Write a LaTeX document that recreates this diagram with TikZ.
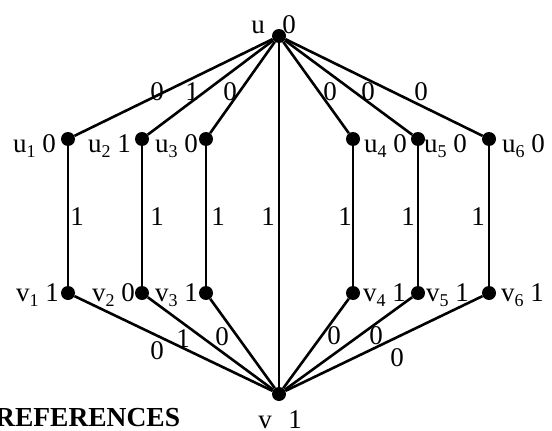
\documentclass[tikz,border=0pt]{standalone}
\usepackage{fontspec}
\setmainfont{Liberation Serif}
% lowered, smaller index for vertex names
\newcommand\lsub[1]{\raisebox{-0.22em}{\fontsize{18}{18}\selectfont #1}}
\begin{document}
\begin{tikzpicture}[x=1pt,y=-1pt,
  dot/.style={circle,fill=black,inner sep=0pt,minimum size=14pt},
  edge/.style={line width=2.6pt},
  lbl/.style={inner sep=0pt,font=\fontsize{27}{27}\selectfont},
]
\useasboundingbox (0,0) rectangle (552,431);

% vertices
\node[dot] (u)  at (279,36) {};
\node[dot] (v)  at (279,394) {};
\foreach \i/\x in {1/68,2/142,3/206,4/353,5/418,6/489}{
  \node[dot] (u\i) at (\x,139) {};
  \node[dot] (v\i) at (\x,293) {};
}

% edges
\foreach \i in {1,...,6}{
  \draw[edge] (u) -- (u\i);
  \draw[edge] (u\i) -- (v\i);
  \draw[edge] (v\i) -- (v);
}
\draw[edge] (u) -- (v);

% vertex labels
\node[lbl,anchor=base] (lu)  at (258,33) {u};
\node[lbl,anchor=base] (lu0) at (289,33) {0};
\node[lbl,anchor=base] (lv)  at (265,428) {v};
\node[lbl,anchor=base] (lv1) at (295,428) {1};

\node[lbl,anchor=base east] (lu1) at (56,152)  {u\lsub{1} 0};
\node[lbl,anchor=base east] (lu2) at (131,152) {u\lsub{2} 1};
\node[lbl,anchor=base east] (lu3) at (198,152) {u\lsub{3} 0};
\node[lbl,anchor=base west] (lu4) at (364,152) {u\lsub{4} 0};
\node[lbl,anchor=base west] (lu5) at (424,152) {u\lsub{5} 0};
\node[lbl,anchor=base west] (lu6) at (502,152) {u\lsub{6} 0};

\node[lbl,anchor=base east] (lv1) at (59,301)  {v\lsub{1} 1};
\node[lbl,anchor=base east] (lv2) at (135,301) {v\lsub{2} 0};
\node[lbl,anchor=base east] (lv3) at (198,301) {v\lsub{3} 1};
\node[lbl,anchor=base west] (lv4) at (363,301) {v\lsub{4} 1};
\node[lbl,anchor=base west] (lv5) at (426,301) {v\lsub{5} 1};
\node[lbl,anchor=base west] (lv6) at (501,301) {v\lsub{6} 1};

% edge labels, upper fan
\node[lbl] (eu1) at (157,92) {0};
\node[lbl] (eu2) at (192,92) {1};
\node[lbl] (eu3) at (230,92) {0};
\node[lbl] (eu4) at (330,92) {0};
\node[lbl] (eu5) at (368,92) {0};
\node[lbl] (eu6) at (421,92) {0};

% edge labels, vertical edges
\foreach \n/\x in {1/77,2/157,3/218,0/268,4/345,5/408,6/478}{
  \node[lbl] (ev\n) at (\x,217) {1};
}

% edge labels, lower fan
\node[lbl] (ew1) at (157,351) {0};
\node[lbl] (ew2) at (183,339) {1};
\node[lbl] (ew3) at (222,337) {0};
\node[lbl] (ew4) at (334,336) {0};
\node[lbl] (ew5) at (376,336) {0};
\node[lbl] (ew6) at (397,358) {0};

% heading of the next section
\node[lbl,anchor=base west,font=\fontsize{27.5}{27.5}\selectfont\bfseries] (refs) at (-5,426) {REFERENCES};
\end{tikzpicture}
\end{document}
